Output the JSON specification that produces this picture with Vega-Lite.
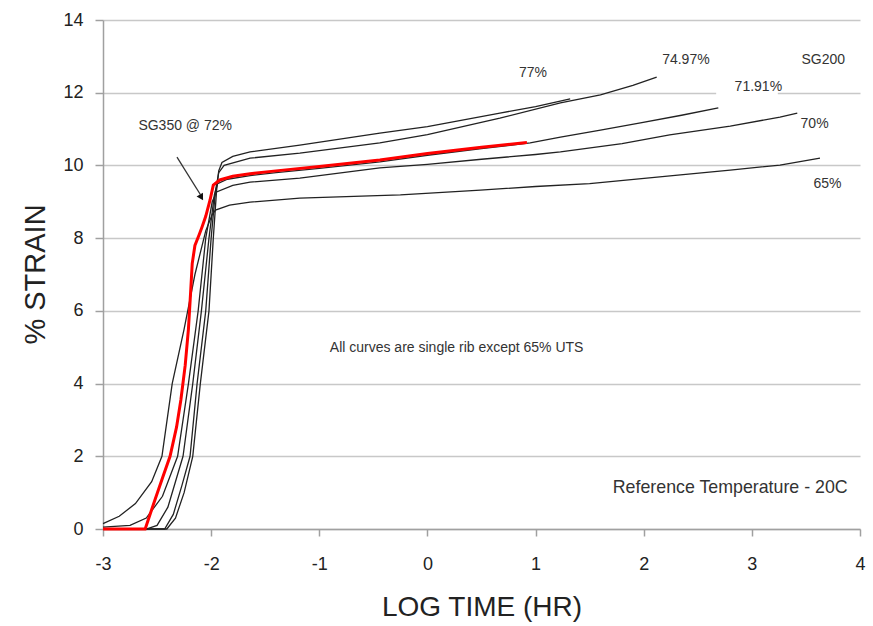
{
  "$schema": "https://vega.github.io/schema/vega-lite/v6.json",
  "width": 757,
  "height": 509,
  "autosize": {"type": "none"},
  "padding": {"left": 103, "top": 20, "right": 13, "bottom": 97},
  "config": {
    "view": {"stroke": null},
    "font": "Liberation Sans",
    "text": {"font": "Liberation Sans"}
  },
  "datasets": {
    "curves": [
      {"s": "77%", "x": -3, "y": 0}, {"s": "77%", "x": -2.41, "y": 0}, {"s": "77%", "x": -2.33, "y": 0.3}, {"s": "77%", "x": -2.25, "y": 1.0}, {"s": "77%", "x": -2.17, "y": 2}, {"s": "77%", "x": -2.1, "y": 4}, {"s": "77%", "x": -2.02, "y": 6}, {"s": "77%", "x": -1.98, "y": 8}, {"s": "77%", "x": -1.95, "y": 9.3}, {"s": "77%", "x": -1.93, "y": 9.85}, {"s": "77%", "x": -1.9, "y": 10.08}, {"s": "77%", "x": -1.8, "y": 10.25}, {"s": "77%", "x": -1.64, "y": 10.37}, {"s": "77%", "x": -1.18, "y": 10.56}, {"s": "77%", "x": -0.44, "y": 10.89}, {"s": "77%", "x": 0, "y": 11.07}, {"s": "77%", "x": 0.67, "y": 11.44}, {"s": "77%", "x": 1.0, "y": 11.62}, {"s": "77%", "x": 1.32, "y": 11.83},
      {"s": "74.97%", "x": -3, "y": 0}, {"s": "74.97%", "x": -2.43, "y": 0}, {"s": "74.97%", "x": -2.35, "y": 0.4}, {"s": "74.97%", "x": -2.27, "y": 1.2}, {"s": "74.97%", "x": -2.195, "y": 2}, {"s": "74.97%", "x": -2.13, "y": 4}, {"s": "74.97%", "x": -2.05, "y": 6}, {"s": "74.97%", "x": -2.0, "y": 8}, {"s": "74.97%", "x": -1.96, "y": 9.3}, {"s": "74.97%", "x": -1.93, "y": 9.8}, {"s": "74.97%", "x": -1.88, "y": 10.0}, {"s": "74.97%", "x": -1.64, "y": 10.2}, {"s": "74.97%", "x": -1.18, "y": 10.34}, {"s": "74.97%", "x": -0.44, "y": 10.62}, {"s": "74.97%", "x": 0, "y": 10.85}, {"s": "74.97%", "x": 0.67, "y": 11.3}, {"s": "74.97%", "x": 1.23, "y": 11.72}, {"s": "74.97%", "x": 1.6, "y": 11.94}, {"s": "74.97%", "x": 1.9, "y": 12.2}, {"s": "74.97%", "x": 2.12, "y": 12.43},
      {"s": "71.91%", "x": -3, "y": 0}, {"s": "71.91%", "x": -2.6, "y": 0}, {"s": "71.91%", "x": -2.5, "y": 0.1}, {"s": "71.91%", "x": -2.4, "y": 0.6}, {"s": "71.91%", "x": -2.33, "y": 1.3}, {"s": "71.91%", "x": -2.26, "y": 2}, {"s": "71.91%", "x": -2.17, "y": 4}, {"s": "71.91%", "x": -2.09, "y": 6}, {"s": "71.91%", "x": -2.02, "y": 8}, {"s": "71.91%", "x": -1.97, "y": 9.2}, {"s": "71.91%", "x": -1.94, "y": 9.5}, {"s": "71.91%", "x": -1.85, "y": 9.62}, {"s": "71.91%", "x": -1.64, "y": 9.72}, {"s": "71.91%", "x": -1.4, "y": 9.8}, {"s": "71.91%", "x": -1.0, "y": 9.92}, {"s": "71.91%", "x": -0.44, "y": 10.1}, {"s": "71.91%", "x": 0, "y": 10.28}, {"s": "71.91%", "x": 0.5, "y": 10.46}, {"s": "71.91%", "x": 0.95, "y": 10.62}, {"s": "71.91%", "x": 1.23, "y": 10.78}, {"s": "71.91%", "x": 1.6, "y": 10.97}, {"s": "71.91%", "x": 1.97, "y": 11.17}, {"s": "71.91%", "x": 2.35, "y": 11.38}, {"s": "71.91%", "x": 2.69, "y": 11.58},
      {"s": "70%", "x": -3, "y": 0.05}, {"s": "70%", "x": -2.75, "y": 0.1}, {"s": "70%", "x": -2.6, "y": 0.3}, {"s": "70%", "x": -2.45, "y": 0.9}, {"s": "70%", "x": -2.31, "y": 2}, {"s": "70%", "x": -2.21, "y": 4}, {"s": "70%", "x": -2.12, "y": 6}, {"s": "70%", "x": -2.05, "y": 8}, {"s": "70%", "x": -1.99, "y": 9.0}, {"s": "70%", "x": -1.95, "y": 9.27}, {"s": "70%", "x": -1.8, "y": 9.45}, {"s": "70%", "x": -1.64, "y": 9.54}, {"s": "70%", "x": -1.18, "y": 9.65}, {"s": "70%", "x": -0.44, "y": 9.93}, {"s": "70%", "x": 0, "y": 10.03}, {"s": "70%", "x": 0.5, "y": 10.17}, {"s": "70%", "x": 1.0, "y": 10.3}, {"s": "70%", "x": 1.23, "y": 10.37}, {"s": "70%", "x": 1.8, "y": 10.6}, {"s": "70%", "x": 2.24, "y": 10.84}, {"s": "70%", "x": 2.8, "y": 11.08}, {"s": "70%", "x": 3.26, "y": 11.33}, {"s": "70%", "x": 3.42, "y": 11.44},
      {"s": "65%", "x": -3, "y": 0.15}, {"s": "65%", "x": -2.85, "y": 0.35}, {"s": "65%", "x": -2.7, "y": 0.7}, {"s": "65%", "x": -2.55, "y": 1.3}, {"s": "65%", "x": -2.455, "y": 2}, {"s": "65%", "x": -2.36, "y": 4}, {"s": "65%", "x": -2.25, "y": 5.5}, {"s": "65%", "x": -2.15, "y": 7}, {"s": "65%", "x": -2.05, "y": 8.2}, {"s": "65%", "x": -1.99, "y": 8.65}, {"s": "65%", "x": -1.96, "y": 8.77}, {"s": "65%", "x": -1.83, "y": 8.91}, {"s": "65%", "x": -1.64, "y": 8.99}, {"s": "65%", "x": -1.18, "y": 9.1}, {"s": "65%", "x": -0.25, "y": 9.19}, {"s": "65%", "x": 0.49, "y": 9.32}, {"s": "65%", "x": 1.0, "y": 9.42}, {"s": "65%", "x": 1.5, "y": 9.5}, {"s": "65%", "x": 2.34, "y": 9.74}, {"s": "65%", "x": 2.8, "y": 9.87}, {"s": "65%", "x": 3.26, "y": 10.01}, {"s": "65%", "x": 3.63, "y": 10.2}
    ],
    "red": [
      {"x": -3, "y": 0}, {"x": -2.61, "y": 0}, {"x": -2.52, "y": 0.8}, {"x": -2.45, "y": 1.4}, {"x": -2.38, "y": 2.0}, {"x": -2.32, "y": 2.8}, {"x": -2.28, "y": 3.55}, {"x": -2.24, "y": 4.5}, {"x": -2.21, "y": 5.5}, {"x": -2.19, "y": 6.5}, {"x": -2.175, "y": 7.3}, {"x": -2.15, "y": 7.8}, {"x": -2.11, "y": 8.1}, {"x": -2.085, "y": 8.3}, {"x": -2.05, "y": 8.6}, {"x": -2.01, "y": 9.05}, {"x": -1.98, "y": 9.46}, {"x": -1.92, "y": 9.6}, {"x": -1.8, "y": 9.7}, {"x": -1.64, "y": 9.77}, {"x": -1.4, "y": 9.85}, {"x": -1.0, "y": 9.97}, {"x": -0.44, "y": 10.15}, {"x": 0, "y": 10.33}, {"x": 0.5, "y": 10.5}, {"x": 0.92, "y": 10.63}
    ],
    "labels": [
      {"t": "SG350 @ 72%", "x": -2.24, "y": 11.08, "fs": 14},
      {"t": "77%", "x": 0.976, "y": 12.55, "fs": 14},
      {"t": "74.97%", "x": 2.39, "y": 12.9, "fs": 14},
      {"t": "SG200", "x": 3.66, "y": 12.9, "fs": 14},
      {"t": "71.91%", "x": 3.06, "y": 12.15, "fs": 14},
      {"t": "70%", "x": 3.58, "y": 11.14, "fs": 14},
      {"t": "65%", "x": 3.7, "y": 9.49, "fs": 14},
      {"t": "All curves are single rib except 65% UTS", "x": 0.27, "y": 4.98, "fs": 14},
      {"t": "Reference Temperature - 20C", "x": 2.8, "y": 1.13, "fs": 17.8}
    ]
  },
  "encoding": {
    "x": {"type": "quantitative", "scale": {"domain": [-3, 4], "nice": false}},
    "y": {"type": "quantitative", "scale": {"domain": [0, 14], "nice": false}}
  },
  "layer": [
    {
      "data": {"values": [{"x1": 2.67, "x2": 3.24, "y1": 11.9, "y2": 12.1}]},
      "mark": {"type": "rect", "fill": "white"},
      "encoding": {
        "x": {"field": "x1", "type": "quantitative", "axis": {
          "title": "LOG TIME (HR)", "values": [-3, -2, -1, 0, 1, 2, 3, 4], "grid": false,
          "labelExpr": "'' + datum.value", "labelFlush": false,
          "domainColor": "#a0a0a0", "domainWidth": 1.5, "tickColor": "#a0a0a0", "tickWidth": 1.5, "tickSize": 7,
          "labelFontSize": 18, "labelColor": "#222", "labelPadding": 19, "labelFont": "Liberation Sans",
          "titleFontSize": 28, "titleFontWeight": "normal", "titleColor": "#222", "titleFont": "Liberation Sans",
          "titleY": 78, "titleBaseline": "middle"
        }},
        "x2": {"field": "x2"},
        "y": {"field": "y1", "type": "quantitative", "axis": {
          "title": "% STRAIN", "values": [0, 2, 4, 6, 8, 10, 12, 14], "grid": true,
          "gridColor": "#c8c8c8", "gridWidth": 1.6,
          "domainColor": "#a0a0a0", "domainWidth": 1.5, "tickColor": "#a0a0a0", "tickWidth": 1.5, "tickSize": 8,
          "labelFontSize": 18, "labelColor": "#222", "labelPadding": 12, "labelFont": "Liberation Sans", "labelFlush": false,
          "titleFontSize": 29, "titleFontWeight": "normal", "titleColor": "#222", "titleFont": "Liberation Sans",
          "titleX": -68, "titleY": 254, "titleBaseline": "middle", "titleAlign": "center"
        }},
        "y2": {"field": "y2"}
      }
    },
    {
      "data": {"name": "curves"},
      "mark": {"type": "line", "color": "#222", "strokeWidth": 1.3},
      "encoding": {
        "x": {"field": "x", "type": "quantitative"},
        "y": {"field": "y", "type": "quantitative"},
        "detail": {"field": "s"}
      }
    },
    {
      "data": {"name": "red"},
      "mark": {"type": "line", "color": "#ff0000", "strokeWidth": 3},
      "encoding": {
        "x": {"field": "x", "type": "quantitative"},
        "y": {"field": "y", "type": "quantitative"}
      }
    },
    {
      "data": {"values": [{"x1": -2.316, "y1": 10.23, "x2": -2.1, "y2": 9.2}]},
      "mark": {"type": "rule", "color": "#333", "strokeWidth": 1.3},
      "encoding": {
        "x": {"field": "x1", "type": "quantitative"},
        "y": {"field": "y1", "type": "quantitative"},
        "x2": {"field": "x2"},
        "y2": {"field": "y2"}
      }
    },
    {
      "data": {"values": [{"x": -2.09, "y": 9.12}]},
      "mark": {"type": "point", "shape": "triangle-down", "filled": true, "color": "#111", "size": 55, "angle": -31, "opacity": 1},
      "encoding": {
        "x": {"field": "x", "type": "quantitative"},
        "y": {"field": "y", "type": "quantitative"}
      }
    },
    {
      "data": {"name": "labels"},
      "mark": {"type": "text", "color": "#333", "align": "center", "baseline": "middle"},
      "encoding": {
        "x": {"field": "x", "type": "quantitative"},
        "y": {"field": "y", "type": "quantitative"},
        "text": {"field": "t"},
        "size": {"field": "fs", "type": "quantitative", "scale": null}
      }
    }
  ]
}
